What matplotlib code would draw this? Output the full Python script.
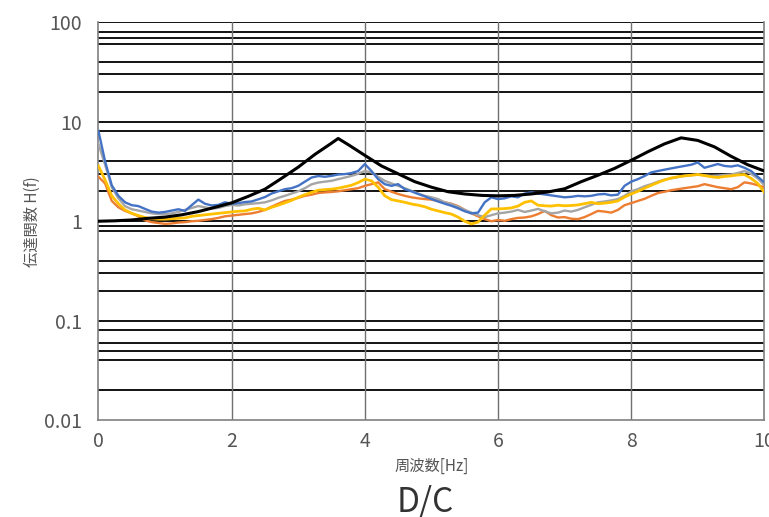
import matplotlib.pyplot as plt
import numpy as np

plt.rcParams["font.family"] = ["Noto Sans CJK JP", "DejaVu Sans"]

# --- data ---
freq_theory = [0.0, 0.25, 0.5, 0.75, 1.0, 1.25, 1.5, 1.75, 2.0, 2.25, 2.5, 2.75, 3.0, 3.25, 3.5, 3.6,
               3.75, 4.0, 4.25, 4.5, 4.75, 5.0, 5.25, 5.5, 5.75, 6.0, 6.25, 6.5, 6.75, 7.0, 7.25, 7.5,
               7.75, 8.0, 8.25, 8.5, 8.75, 9.0, 9.25, 9.5, 9.75, 10.0]
h_theory = [1.0, 1.01, 1.03, 1.07, 1.1, 1.16, 1.25, 1.38, 1.53, 1.78, 2.1, 2.7, 3.5, 4.7, 6.1, 6.8,
            5.9, 4.6, 3.6, 3.0, 2.5, 2.2, 1.98, 1.88, 1.82, 1.8, 1.82, 1.88, 1.97, 2.12, 2.5, 2.9,
            3.4, 4.1, 5.0, 6.0, 6.9, 6.5, 5.6, 4.5, 3.7, 3.2]

freq = np.round(np.arange(0, 101) * 0.1, 1)

h_blue = [8.1, 4.0, 2.3, 1.8, 1.55, 1.45, 1.42, 1.33, 1.25, 1.22,
          1.24, 1.28, 1.32, 1.27, 1.45, 1.65, 1.5, 1.44, 1.46, 1.55,
          1.5, 1.52, 1.56, 1.58, 1.66, 1.75, 1.9, 2.0, 2.1, 2.15,
          2.27, 2.5, 2.75, 2.85, 2.8, 2.86, 2.95, 2.98, 3.05, 3.2,
          3.76, 3.2, 2.65, 2.36, 2.27, 2.36, 2.1, 2.0, 1.88, 1.78,
          1.67, 1.58, 1.5, 1.43, 1.35, 1.26, 1.2, 1.22, 1.55, 1.74,
          1.67, 1.7, 1.78, 1.74, 1.9, 1.95, 1.9, 1.86, 1.82, 1.78,
          1.74, 1.76, 1.8, 1.78, 1.8, 1.86, 1.88, 1.82, 1.85, 2.27,
          2.5, 2.65, 2.85, 3.1, 3.2, 3.3, 3.4, 3.5, 3.6, 3.7,
          3.9, 3.45, 3.6, 3.76, 3.6, 3.55, 3.65, 3.45, 3.2, 2.8,
          2.46]
h_gray = [6.0, 3.7, 2.2, 1.7, 1.42, 1.32, 1.28, 1.24, 1.2, 1.18,
          1.18, 1.2, 1.24, 1.3, 1.36, 1.42, 1.38, 1.34, 1.36, 1.42,
          1.46, 1.44, 1.48, 1.5, 1.52, 1.55, 1.62, 1.72, 1.8, 1.9,
          2.0, 2.15, 2.35, 2.45, 2.5, 2.55, 2.65, 2.75, 2.86, 3.0,
          3.2, 3.1, 2.8, 2.55, 2.4, 2.27, 2.15, 2.02, 1.9, 1.8,
          1.74, 1.67, 1.55, 1.49, 1.4, 1.3, 1.22, 1.15, 1.1, 1.15,
          1.2, 1.22, 1.25, 1.3, 1.24, 1.28, 1.33, 1.26, 1.2, 1.22,
          1.28, 1.25, 1.3, 1.38, 1.46, 1.55, 1.58, 1.62, 1.67, 1.8,
          2.0, 2.1, 2.25, 2.36, 2.5, 2.62, 2.7, 2.78, 2.86, 2.9,
          2.95, 2.9, 2.86, 2.88, 2.92, 2.95, 3.05, 3.2, 3.0, 2.7,
          2.3]
h_orange = [2.8, 2.4, 1.6, 1.38, 1.27, 1.2, 1.12, 1.02, 0.98, 0.96,
            0.94, 0.95, 0.97, 0.98, 1.0, 1.01, 1.03, 1.05, 1.08, 1.12,
            1.14, 1.16, 1.18, 1.2, 1.24, 1.3, 1.4, 1.5, 1.6, 1.65,
            1.72, 1.8, 1.85, 1.92, 1.95, 1.97, 2.0, 2.05, 2.1, 2.15,
            2.27, 2.36, 2.46, 2.1, 1.98, 1.88, 1.8, 1.74, 1.7, 1.67,
            1.65, 1.6, 1.55, 1.5, 1.42, 1.3, 1.2, 1.12, 1.05, 1.0,
            1.03, 1.01, 1.05, 1.08, 1.09, 1.12, 1.18, 1.27, 1.15, 1.09,
            1.1, 1.06, 1.05, 1.1, 1.18, 1.27, 1.25, 1.22, 1.3, 1.45,
            1.52, 1.6, 1.68, 1.8, 1.92, 1.98, 2.05, 2.1, 2.15, 2.2,
            2.25, 2.36, 2.28, 2.2, 2.15, 2.1, 2.2, 2.46, 2.4, 2.3,
            2.2]
h_yellow = [3.6, 2.6, 1.8, 1.5, 1.3, 1.2, 1.14, 1.09, 1.06, 1.05,
            1.05, 1.06, 1.07, 1.08, 1.12, 1.14, 1.16, 1.18, 1.2, 1.22,
            1.24, 1.26, 1.27, 1.32, 1.35, 1.3, 1.38, 1.45, 1.53, 1.62,
            1.74, 1.85, 1.95, 2.05, 2.08, 2.1, 2.15, 2.22, 2.3, 2.45,
            2.65, 2.55, 2.2, 1.8, 1.65, 1.6, 1.55, 1.49, 1.45, 1.4,
            1.32, 1.27, 1.22, 1.18, 1.1, 1.0, 0.94, 0.98, 1.15, 1.33,
            1.33, 1.34, 1.36, 1.42, 1.55, 1.6, 1.45, 1.43, 1.42, 1.45,
            1.43, 1.44, 1.46, 1.5, 1.55, 1.5, 1.52, 1.55, 1.6, 1.75,
            1.88, 2.0, 2.15, 2.3, 2.45, 2.6, 2.72, 2.8, 2.86, 2.9,
            2.95, 2.88, 2.8, 2.75, 2.82, 2.86, 2.92, 2.95, 2.7, 2.4,
            1.95]

y_ticks = [0.01, 0.1, 1, 10, 100]
y_ticklabels = ["0.01", "0.1", "1", "10", "100"]
x_ticks = [0, 2, 4, 6, 8, 10]

# horizontal rules that show in the reference
grid_levels = [0.02, 0.04, 0.05, 0.06, 0.08, 0.1, 0.2, 0.3, 0.4, 0.8, 0.9, 1,
               2, 3, 4, 8, 10, 20, 30, 40, 60, 70, 80, 100]

fig = plt.figure(figsize=(7.69, 5.17), dpi=100)
ax = fig.add_axes([0.128, 0.1876, 0.866, 0.769])

for g in grid_levels:
    ax.axhline(g, color="black", lw=1.3, zorder=1)
for xv in x_ticks[1:-1]:
    ax.axvline(xv, color="#707070", lw=1.0, zorder=1)

ax.plot(freq, h_orange, color="#ED7D31", lw=1.7, zorder=3)
ax.plot(freq, h_gray, color="#A5A5A5", lw=1.7, zorder=3)
ax.plot(freq, h_yellow, color="#FFC000", lw=2.0, zorder=3)
ax.plot(freq, h_blue, color="#4472C4", lw=1.7, zorder=4)
ax.plot(freq_theory, h_theory, color="black", lw=2.2, zorder=5)

ax.set_yscale("log")
ax.set_ylim(0.01, 100)
ax.set_xlim(0, 10)
ax.set_yticks(y_ticks)
ax.set_yticklabels(y_ticklabels)
ax.yaxis.set_minor_locator(plt.NullLocator())
ax.set_xticks(x_ticks)
ax.tick_params(length=0, labelsize=14, colors="#555555")
ax.tick_params(axis="y", pad=12)
ax.tick_params(axis="x", pad=8)

for s in ["left", "bottom", "right"]:
    ax.spines[s].set_color("#808080")
    ax.spines[s].set_linewidth(1.2)
ax.spines["top"].set_visible(False)

ax.set_xlabel("周波数[Hz]", fontsize=11, color="#555555", labelpad=4)
ax.set_ylabel("伝達関数 H(f)", fontsize=11, color="#555555", labelpad=2)

fig.text(0.553, 1 - 503 / 517, "D/C", fontsize=24, ha="center", va="center", color="#333333")

fig.savefig("out.png", dpi=100)
